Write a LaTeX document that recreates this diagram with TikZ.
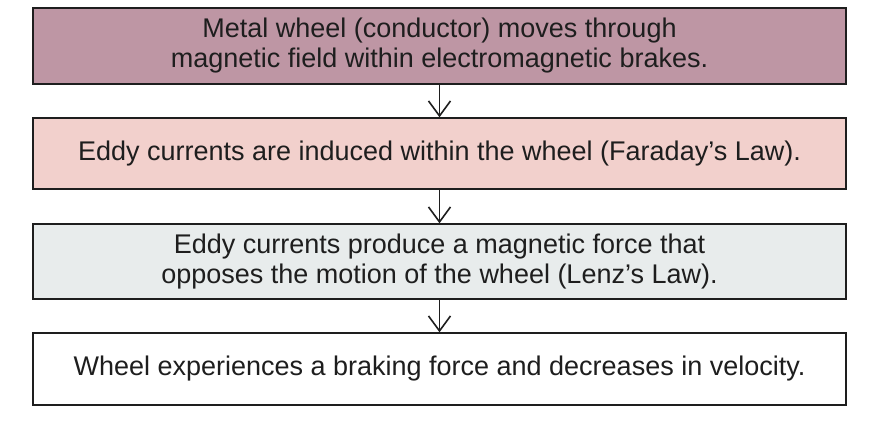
\documentclass[tikz,border=0pt]{standalone}
\usepackage{fontspec}
\setmainfont{Liberation Sans}
\usetikzlibrary{arrows.meta}
\definecolor{cA}{HTML}{BE96A4}
\definecolor{cB}{HTML}{F2D0CC}
\definecolor{cC}{HTML}{E8ECEC}
\definecolor{ink}{HTML}{1E1E1E}
\begin{document}
\begin{tikzpicture}[x=1pt,y=1pt,
  box/.style={draw=ink,line width=1.4pt,minimum width=813pt,inner sep=0pt,align=center,font=\fontsize{27}{30}\selectfont,text=ink},
  arr/.style={draw=ink,line width=1.6pt,-{Straight Barb[length=15pt,width=22pt,line width=1.6pt]}}]
\useasboundingbox (0,0) rectangle (870,424);
\node[box,fill=cA,minimum height=76pt] (b1) at (439.5,378) {Metal wheel (conductor) moves through\\magnetic field within electromagnetic brakes.};
\node[box,fill=cB,minimum height=71pt] (b2) at (439.5,270.5) {Eddy currents are induced within the wheel (Faraday’s Law).};
\node[box,fill=cC,minimum height=75pt] (b3) at (439.5,162.5) {Eddy currents produce a magnetic force that\\opposes the motion of the wheel (Lenz’s Law).};
\node[box,fill=white,minimum height=72pt] (b4) at (439.5,55) {Wheel experiences a braking force and decreases in velocity.};
\draw[arr] (b1) -- (b2);
\draw[arr] (b2) -- (b3);
\draw[arr] (b3) -- (b4);
\end{tikzpicture}
\end{document}
